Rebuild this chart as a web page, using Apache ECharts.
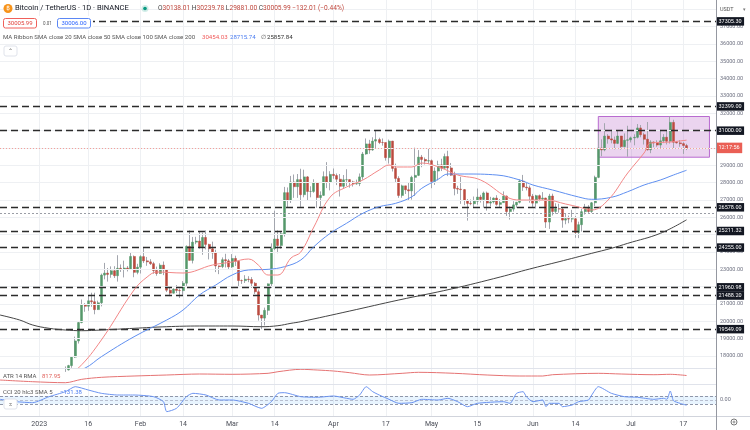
<!DOCTYPE html>
<html><head><meta charset="utf-8">
<script src="https://cdn.jsdelivr.net/npm/echarts@6/dist/echarts.min.js"></script>
<style>html,body{margin:0;padding:0;background:#fff}#c{width:750px;height:430px}</style>
</head><body><div id="c"></div>
<script>
// ---------- DATA ----------
const startDate = '2022-12-20';
const numDays = 220; // category slots (last candles end at index 210)

const opens = [
16441,16895,16824,16821,16778,16837,16832,16919,16706,16547,16633,16607,
16542,16616,16673,16674,16850,16831,16951,16955,17091,17196,17446,17934,18869,19930,20954,20871,21185,21132,20677,21071,22667,22783,22707,22917,22632,23060,23009,23074,23023,23743,22827,
23125,23733,23490,23431,23326,22933,22762,23242,22963,21796,21625,21862,21783,21773,22199,24324,23517,24569,24631,24271,24839,24439,24189,23947,23198,23158,23555,23492,
23141,23628,23466,22354,22346,22430,22410,22197,21705,20362,20187,20633,22163,24197,24746,24375,25052,27423,26965,28038,27767,28175,27307,28333,27493,27494,27994,27139,27268,28348,28033,
28478,28411,28199,27790,28168,28175,28044,27925,27947,28333,29653,30235,29884,30399,30485,30318,30315,29445,30397,28823,28245,27262,27817,27591,27525,28307,28422,29473,29340,29248,
29268,28068,28669,29026,28838,29507,28849,28430,27668,27628,27599,26969,26805,26784,26930,27171,27032,27405,26822,26890,27112,26747,26849,27226,26334,26476,26719,26868,28085,27745,27702,
27219,26819,27249,27069,27115,25728,27230,26339,26498,26477,25841,25925,25902,25918,25124,25576,26327,26510,26336,26840,28307,29994,29890,30688,30527,30462,30267,30692,30077,30446,
30472,30585,30617,31156,30767,30505,29895,30346,30292,30171,30414,30620,30391,31476,30334,30295,30249,30138.01];
const highs = [
17061,16918,16866,16959,16869,16861,16944,16972,16785,16664,16677,16644,
16630,16760,16778,16991,16879,17041,16990,17176,17398,17490,17992,19117,19995,21258,21050,21474,21650,21650,21192,22755,23371,23078,23170,23180,23816,23282,23500,23189,23960,23800,23320,
23812,24255,23715,23587,23433,23158,23350,23452,23011,21938,21906,22091,21890,22322,24380,25250,24868,24877,25192,25121,25250,24476,24599,24132,23219,23689,23897,23600,
23880,23787,23479,22410,22662,22602,22551,22268,21834,20367,20792,22185,24500,26386,25250,25196,27756,27725,28390,28472,28500,28803,28749,28380,27792,28194,28044,27499,28650,29184,28662,
28819,28530,28500,28444,28775,28190,28111,28174,28530,29770,30550,30471,30620,31000,30595,30549,30320,30485,30412,29098,28371,27885,27820,28000,28400,30020,29880,29599,29454,29960,
29338,28879,29266,29379,29677,29843,29138,28631,27820,28336,27636,27055,27030,27200,27662,27299,27485,27485,27183,27150,27277,27060,27495,27259,26620,26933,26888,28193,28447,28044,27835,
27350,27300,27317,27455,27130,27355,27366,26810,26783,26533,26207,26100,26433,26081,25750,26492,26774,26700,26888,28402,30800,30500,31431,30800,31046,30662,31006,30703,30840,31282,
30660,30791,31382,31326,30877,31500,30449,30378,30445,31045,30800,30985,31814,31630,30390,30459,30336,30239.78];
const lows = [
16398,16735,16559,16755,16770,16721,16791,16592,16470,16508,16333,16470,
16500,16548,16600,16658,16753,16679,16908,16911,17084,17161,17320,17892,18720,19889,20551,20611,20841,20407,20659,20862,22422,22292,22513,22500,22292,22850,22534,22878,22976,22545,22714,
22760,23363,23204,23253,22745,22628,22745,22665,21688,21451,21599,21631,21351,21532,22047,23505,23340,24450,24192,23840,24148,23574,23608,22841,22722,23069,23106,23020,
23078,23195,21971,22157,22212,22258,21927,21580,20042,19549,19765,20366,21918,24109,23930,24192,24890,26578,26827,27125,27124,26601,27155,27000,27156,27415,26552,26631,27240,27686,27555,
28225,27860,27200,27676,27805,27711,27775,27883,27800,28170,29607,29667,29841,29962,30227,30135,29270,29101,28645,28010,27125,27129,27348,26942,27020,27235,28379,28891,29050,29088,
27680,27872,28130,28670,28800,28378,28395,27270,27353,26777,26703,25811,26700,26600,26727,26852,26555,26388,26630,26800,26671,26538,26848,26080,25871,26333,26560,26802,27524,27555,26841,
26605,26507,26920,26951,25388,25333,26108,26210,26269,25400,25600,25659,25715,24820,24800,25175,26162,26255,26256,26650,28260,29525,29813,30250,30269,29920,30226,29906,30035,29500,
30320,30155,30553,30620,30200,29850,29701,30044,30070,29955,30283,30203,30255,29940,30254,30070,29659,29881.00];
const closes = [
16895,16824,16821,16778,16837,16832,16919,16706,16547,16633,16607,16542,
16616,16673,16674,16850,16831,16951,16955,17091,17196,17446,17934,18869,19930,20954,20871,21185,21132,20677,21071,22667,22783,22707,22917,22632,23060,23009,23074,23023,23743,22827,23125,
23733,23490,23431,23326,22933,22762,23242,22963,21796,21625,21862,21783,21773,22199,24324,23517,24569,24631,24271,24839,24439,24189,23947,23198,23158,23555,23492,23141,
23628,23466,22354,22346,22430,22410,22197,21705,20362,20187,20633,22163,24197,24746,24375,25052,27423,26965,28038,27767,28175,27307,28333,27493,27494,27994,27139,27268,28348,28033,28478,
28411,28199,27790,28168,28175,28044,27925,27947,28333,29653,30235,29884,30399,30485,30318,30315,29445,30397,28823,28245,27262,27817,27591,27525,28307,28422,29473,29340,29248,29268,
28068,28669,29026,28838,29507,28849,28430,27668,27628,27599,26969,26805,26784,26930,27171,27032,27405,26822,26890,27112,26747,26849,27226,26334,26476,26719,26868,28085,27745,27702,27219,
26819,27249,27069,27115,25728,27230,26339,26498,26477,25841,25925,25902,25918,25124,25576,26327,26510,26336,26840,28307,29994,29890,30688,30527,30462,30267,30692,30077,30446,30472,
30585,30617,31156,30767,30505,29895,30346,30292,30171,30414,30620,30391,31476,30334,30295,30249,30145,30005.99];

// moving averages: [day index, value]
const sma20Pts = [[20,16900],[24,17310],[31,18923],[41,21808],[45,22558],[48,22846],[56,22788],[65,23250],[71,23423],[76,23596],[79,23250],[82,22673],[85,22673],[89,23654],[92,24000],[96,25442],[101,27173],[106,27750],[111,28154],[116,28731],[119,29019],[121,28904],[126,28904],[129,29135],[135,28846],[140,28442],[147,28154],[155,27173],[159,27000],[167,27000],[173,26769],[177,26596],[181,26423],[186,27000],[192,28558],[197,29712],[199,30288],[205,30346],[210,30454.03]];
const sma50Pts = [[20,16950],[26,17300],[31,17960],[41,19113],[51,20077],[56,20654],[61,21519],[66,22096],[71,22673],[76,22962],[82,23000],[87,23152],[92,23538],[96,24306],[101,25079],[106,25656],[111,26233],[116,26614],[121,26808],[126,27191],[129,27675],[134,28194],[137,28500],[142,28500],[152,28442],[159,28154],[163,27865],[169,27577],[177,27173],[181,27040],[187,27156],[192,27479],[197,27865],[202,28154],[206,28442],[210,28715.74]];
const sma200Pts = [[0,20365],[6,20077],[10,19788],[15,19598],[20,19500],[25,19460],[31,19500],[41,19598],[51,19690],[61,19730],[71,19730],[80,19690],[85,19748],[89,19885],[92,19979],[107,20596],[122,21231],[138,21865],[153,22558],[162,23019],[171,23440],[181,23925],[187,24213],[192,24500],[202,25079],[210,25857.84]];
const atrPts = [[0,469],[10,338],[20,260],[25,523],[31,678],[41,779],[51,857],[61,934],[71,911],[82,988],[85,1112],[92,1298],[97,1244],[102,1167],[107,1035],[113,857],[123,988],[128,1066],[139,988],[149,857],[159,779],[166,779],[169,880],[183,988],[190,934],[200,880],[205,911],[210,817.95]];
const cciPts = [[0,17],[5,-42],[10,-67],[15,83],[20,208],[23,333],[27,250],[31,167],[36,125],[41,125],[47,83],[50,-42],[51,-292],[54,-208],[57,83],[59,167],[63,125],[67,0],[71,0],[76,-83],[80,-208],[83,-42],[85,167],[87,183],[92,83],[97,67],[102,100],[106,42],[108,17],[110,125],[112,333],[114,208],[116,125],[119,17],[122,-83],[126,-67],[129,17],[134,0],[137,42],[140,-42],[143,-167],[146,-83],[154,-42],[156,-83],[158,167],[160,208],[161,83],[163,-42],[166,0],[167,-167],[168,-83],[171,-83],[172,-167],[175,-125],[177,-42],[180,0],[181,125],[183,333],[187,167],[191,83],[195,67],[200,17],[203,42],[204,17],[205,225],[206,-17],[208,-83],[210,-131.38]];

const tickDates = ['2023-01-01','2023-01-16','2023-02-01','2023-02-14','2023-03-01','2023-03-14','2023-04-01','2023-04-17','2023-05-01','2023-05-15','2023-06-01','2023-06-14','2023-07-01','2023-07-17'];
const tickLabels = ['2023','16','Feb','14','Mar','14','Apr','17','May','15','Jun','14','Jul','17'];
const priceTicks = [18000,19000,20000,21000,22000,23000,24000,25000,26000,27000,28000,29000,30000,31000,32000,33000,34000,35000,36000,37000,38000];
const hiddenPriceLabels = [38000,31000,30000,25000,22000];
const levelValues = [37305.30,32399.00,31000.00,26578.00,25211.32,24255.00,21960.98,21488.20,19549.09];
const lastPrice = 30005.99;
const countdown = '12:17:56';
const dottedLevel = 26230;
const boxStart = '2023-06-21', boxEnd = '2023-07-25', boxTop = 31817, boxBottom = 29469;
const cciBand = [-100, 0, 100];

// ---------- BUILD ----------
const dates = [];
const d0 = new Date(startDate + 'T00:00:00Z');
for (let i = 0; i < numDays; i++) dates.push(new Date(d0.getTime() + i * 86400000).toISOString().slice(0, 10));
const FONT = 'Roboto, "Noto Sans", Arial, sans-serif';
const candleData = opens.map((o, i) => [o, closes[i], lows[i], highs[i]]);
const bodyData = opens.map((o, i) => [o, closes[i], Math.min(o, closes[i]), Math.max(o, closes[i])]);
const tickSet = new Set(tickDates);
const isTick = (idx, val) => tickSet.has(val);
const GRID_C = '#eef0f3';

function xAx(gi, showLabels) {
  return {
    type: 'category', gridIndex: gi, data: dates, boundaryGap: false,
    axisLine: { show: false }, axisTick: { show: false },
    axisLabel: { show: showLabels, interval: isTick, formatter: v => tickLabels[tickDates.indexOf(v)] || '',
      color: '#4a4d57', fontSize: 7, fontFamily: FONT, margin: 5 },
    splitLine: { show: true, interval: isTick, lineStyle: { color: GRID_C, width: 1 } }
  };
}
const hidden = { lineStyle: { opacity: 0 }, symbol: 'none', silent: true };

const option = {
  animation: false,
  backgroundColor: '#ffffff',
  grid: [
    { left: 0, right: 34, top: 0, height: 368 },
    { left: 0, right: 34, top: 368, height: 16 },
    { left: 0, right: 34, top: 384, height: 32 }
  ],
  xAxis: [xAx(0, false), xAx(1, false), xAx(2, true)],
  yAxis: [
    { type: 'value', gridIndex: 0, min: 17307.7, max: 38538.5, show: false },
    { type: 'value', gridIndex: 1, min: 160, max: 1400, show: false },
    { type: 'value', gridIndex: 2, min: -400, max: 400, interval: 400, position: 'right',
      axisLine: { show: false }, axisTick: { show: false }, splitLine: { show: false },
      axisLabel: { formatter: v => v === 0 ? '0.00' : '', color: '#6d7080', fontSize: 5.5, fontFamily: FONT, margin: 4 } }
  ],
  series: [
    { // price grid lines + labels
      type: 'line', xAxisIndex: 0, yAxisIndex: 0, data: closes, z: 1, ...hidden,
      markLine: { symbol: ['none', 'none'], silent: true, animation: false,
        lineStyle: { color: GRID_C, width: 1, type: 'solid' },
        label: { position: 'end', distance: 4, color: '#6d7080', fontSize: 5.5, fontFamily: FONT },
        data: priceTicks.map(v => ({ yAxis: v, label: { formatter: hiddenPriceLabels.includes(v) ? '' : v.toFixed(2) } })) }
    },
    { // rectangle drawing
      type: 'line', xAxisIndex: 0, yAxisIndex: 0, data: closes, z: 2, ...hidden,
      markArea: { silent: true, itemStyle: { color: 'rgba(156,39,176,0.2)', borderColor: '#b86bd0', borderWidth: 1 },
        data: [[{ xAxis: boxStart, yAxis: boxTop }, { xAxis: boxEnd, yAxis: boxBottom }]] }
    },
    { // wicks
      type: 'candlestick', xAxisIndex: 0, yAxisIndex: 0, data: candleData, z: 3, barWidth: 1,
      itemStyle: { color: '#a3a6ae', color0: '#a3a6ae', borderColor: '#a3a6ae', borderColor0: '#a3a6ae', borderColorDoji: '#a3a6ae', borderWidth: 1 }
    },
    { // bodies
      type: 'candlestick', xAxisIndex: 0, yAxisIndex: 0, data: bodyData, z: 4, barWidth: 2.5,
      itemStyle: { color: '#55986a', color0: '#bb4a3f', borderColor: '#55986a', borderColor0: '#bb4a3f', borderColorDoji: '#888', borderWidth: 0.5 }
    },
    { type: 'line', xAxisIndex: 0, yAxisIndex: 0, data: sma200Pts, z: 5, smooth: 0.4, symbol: 'none', lineStyle: { color: '#454545', width: 1 } },
    { type: 'line', xAxisIndex: 0, yAxisIndex: 0, data: sma50Pts, z: 5, smooth: 0.4, symbol: 'none', lineStyle: { color: '#5f8ff0', width: 1 } },
    { type: 'line', xAxisIndex: 0, yAxisIndex: 0, data: sma20Pts, z: 5, smooth: 0.4, symbol: 'none', lineStyle: { color: '#f28787', width: 1 } },
    { // horizontal levels with tags
      type: 'line', xAxisIndex: 0, yAxisIndex: 0, data: closes, z: 6, ...hidden,
      markLine: { symbol: ['none', 'none'], silent: true, animation: false,
        lineStyle: { color: '#2b2b2b', width: 1.4, type: [7, 4] },
        label: { position: 'end', distance: 0, color: '#ffffff', backgroundColor: '#131722', padding: [1.5, 2.5, 1, 2.5], fontSize: 5.5, fontFamily: FONT },
        data: [
          { yAxis: dottedLevel, lineStyle: { color: '#9a9da5', width: 1, type: [2, 2] }, label: { show: false } },
          { yAxis: lastPrice, lineStyle: { color: '#f4a09a', width: 1, type: [1, 2] }, label: { formatter: countdown, backgroundColor: '#ea5f55', padding: [2.5, 2.5, 2, 2.5] } }
        ].concat(levelValues.map(v => ({ yAxis: v, label: { formatter: v.toFixed(2) } }))) }
    },
    { type: 'line', xAxisIndex: 1, yAxisIndex: 1, data: atrPts, z: 5, smooth: 0.3, symbol: 'none', lineStyle: { color: '#e57373', width: 1 } },
    { type: 'line', xAxisIndex: 2, yAxisIndex: 2, data: cciPts, z: 5, smooth: 0.2, symbol: 'none', lineStyle: { color: '#6b93f0', width: 1 },
      markArea: { silent: true, itemStyle: { color: 'rgba(33,150,243,0.1)' }, data: [[{ yAxis: cciBand[0] }, { yAxis: cciBand[2] }]] },
      markLine: { symbol: ['none', 'none'], silent: true, label: { show: false },
        lineStyle: { color: '#8f96a8', width: 1, type: [3, 2] },
        data: cciBand.map(v => ({ yAxis: v, lineStyle: v === 0 ? { color: '#b8bfd0' } : {} })) } }
  ],
  graphic: [
    { type: 'line', z: 50, shape: { x1: 0, y1: 368.5, x2: 716, y2: 368.5 }, style: { stroke: '#e0e3eb', lineWidth: 1 } },
    { type: 'line', z: 50, shape: { x1: 0, y1: 384.5, x2: 716, y2: 384.5 }, style: { stroke: '#e0e3eb', lineWidth: 1 } },
    { type: 'line', z: 50, shape: { x1: 0, y1: 416.5, x2: 750, y2: 416.5 }, style: { stroke: '#d1d4dc', lineWidth: 1 } },
    { type: 'line', z: 50, shape: { x1: 716.5, y1: 0, x2: 716.5, y2: 430 }, style: { stroke: '#9598a1', lineWidth: 1 } },
    // header row 1
    { type: 'circle', z: 60, shape: { cx: 8, cy: 8.5, r: 4.5 }, style: { fill: '#f7931a' } },
    { type: 'text', z: 61, style: { x: 8, y: 8.7, text: '₿', fill: '#fff', fontSize: 6, fontFamily: FONT, align: 'center', verticalAlign: 'middle' } },
    { type: 'text', z: 60, style: { x: 15, y: 8.5, text: 'Bitcoin / TetherUS · 1D · BINANCE', fill: '#131722', fontSize: 7.6, fontFamily: FONT, verticalAlign: 'middle' } },
    { type: 'circle', z: 60, shape: { cx: 145, cy: 8.5, r: 3.5 }, style: { fill: 'rgba(8,153,129,0.18)' } },
    { type: 'circle', z: 61, shape: { cx: 145, cy: 8.5, r: 1.8 }, style: { fill: '#089981' } },
    { type: 'text', z: 60, style: { x: 158, y: 8.5, verticalAlign: 'middle', fontSize: 6.6, fontFamily: FONT,
      text: '{g|O}{r|30138.01} {g|H}{r|30239.78} {g|L}{r|29881.00} {g|C}{r|30005.99} {r|−132.01 (−0.44%)}',
      rich: { g: { fill: '#444', fontSize: 6.6, fontFamily: FONT }, r: { fill: '#c0473d', fontSize: 6.6, fontFamily: FONT } } } },
    // header row 2
    { type: 'rect', z: 59, shape: { x: 0, y: 16, width: 93, height: 14 }, style: { fill: '#fff' } },
    { type: 'rect', z: 60, shape: { x: 3.5, y: 18.5, width: 33, height: 9.5, r: 2 }, style: { fill: '#fff', stroke: '#f0605a', lineWidth: 1 } },
    { type: 'text', z: 61, style: { x: 20, y: 23.5, text: '30005.99', fill: '#e0413a', fontSize: 6, fontFamily: FONT, align: 'center', verticalAlign: 'middle' } },
    { type: 'text', z: 61, style: { x: 47.5, y: 23.5, text: '0.01', fill: '#555', fontSize: 4.5, fontFamily: FONT, align: 'center', verticalAlign: 'middle' } },
    { type: 'rect', z: 60, shape: { x: 57.5, y: 18.5, width: 33, height: 9.5, r: 2 }, style: { fill: '#fff', stroke: '#5b87f5', lineWidth: 1 } },
    { type: 'text', z: 61, style: { x: 74, y: 23.5, text: '30006.00', fill: '#2962ff', fontSize: 6, fontFamily: FONT, align: 'center', verticalAlign: 'middle' } },
    // header row 3
    { type: 'text', z: 60, style: { x: 3, y: 37.5, text: 'MA Ribbon SMA close 20 SMA close 50 SMA close 100 SMA close 200', fill: '#555', fontSize: 6.1, fontFamily: FONT, verticalAlign: 'middle' } },
    { type: 'text', z: 60, style: { x: 202, y: 37.5, text: '30454.03', fill: '#f05a5a', fontSize: 6.1, fontFamily: FONT, verticalAlign: 'middle' } },
    { type: 'text', z: 60, style: { x: 230, y: 37.5, text: '28715.74', fill: '#4a7cf0', fontSize: 6.1, fontFamily: FONT, verticalAlign: 'middle' } },
    { type: 'text', z: 60, style: { x: 261, y: 37.5, text: '∅', fill: '#555', fontSize: 6.1, fontFamily: FONT, verticalAlign: 'middle' } },
    { type: 'text', z: 60, style: { x: 267, y: 37.5, text: '25857.84', fill: '#333', fontSize: 6.1, fontFamily: FONT, verticalAlign: 'middle' } },
    { type: 'rect', z: 60, shape: { x: 4, y: 46, width: 13, height: 10, r: 2 }, style: { fill: '#fff', stroke: '#e0e3eb', lineWidth: 1 } },
    { type: 'text', z: 61, style: { x: 10.5, y: 51.5, text: '⌃', fill: '#555', fontSize: 6, fontFamily: FONT, align: 'center', verticalAlign: 'middle' } },
    // right top
    { type: 'text', z: 60, style: { x: 720, y: 9.5, text: 'USDT', fill: '#555', fontSize: 5.5, fontFamily: FONT, verticalAlign: 'middle' } },
    { type: 'text', z: 60, style: { x: 744, y: 9.5, text: '▾', fill: '#777', fontSize: 5, fontFamily: FONT, align: 'center', verticalAlign: 'middle' } },
    // indicator labels
    { type: 'text', z: 60, style: { x: 3, y: 376.5, text: 'ATR 14 RMA', fill: '#555', fontSize: 6, fontFamily: FONT, verticalAlign: 'middle' } },
    { type: 'text', z: 60, style: { x: 42, y: 376.5, text: '817.95', fill: '#e0605a', fontSize: 6, fontFamily: FONT, verticalAlign: 'middle' } },
    { type: 'text', z: 60, style: { x: 3, y: 392.5, text: 'CCI 20 hlc3 SMA 5', fill: '#555', fontSize: 6, fontFamily: FONT, verticalAlign: 'middle' } },
    { type: 'text', z: 60, style: { x: 60, y: 392.5, text: '−131.38', fill: '#4a7cf0', fontSize: 6, fontFamily: FONT, verticalAlign: 'middle' } },
    { type: 'rect', z: 60, shape: { x: 4, y: 399, width: 13, height: 10, r: 2 }, style: { fill: '#fff', stroke: '#e0e3eb', lineWidth: 1 } },
    { type: 'text', z: 61, style: { x: 10.5, y: 404, text: '⌅', fill: '#555', fontSize: 6, fontFamily: FONT, align: 'center', verticalAlign: 'middle' } },
    // gear
    { type: 'circle', z: 60, shape: { cx: 734, cy: 422, r: 3 }, style: { fill: 'none', stroke: '#777', lineWidth: 1 } },
    { type: 'circle', z: 60, shape: { cx: 734, cy: 422, r: 1 }, style: { fill: 'none', stroke: '#777', lineWidth: 0.8 } }
  ]
};
const chart = echarts.init(document.getElementById('c'));
chart.setOption(option);
</script>
</body></html>
